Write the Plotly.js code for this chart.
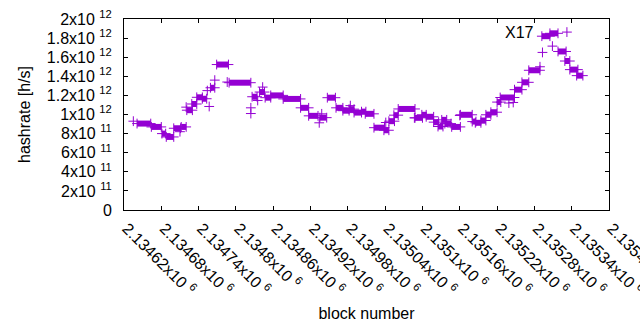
<!DOCTYPE html>
<html>
<head>
<meta charset="utf-8">
<script src="https://cdn.plot.ly/plotly-3.0.1.min.js"></script>
<style>html,body{margin:0;padding:0;background:#fff;}#chart{width:640px;height:330px;}</style>
</head>
<body>
<div id="chart"></div>
<script>
// Runs of consecutive blocks sharing the same hashrate (h/s)
var runStart = [2134641, 2134664, 2134681, 2134688, 2134700, 2134712, 2134721, 2134729, 2134737, 2134746,
  2134759, 2134769, 2134789, 2134826, 2134838, 2134847, 2134856, 2134876, 2134904, 2134917,
  2134935, 2134947, 2134961, 2134972, 2134982, 2134990, 2135002, 2135008, 2135022, 2135038,
  2135046, 2135054, 2135061, 2135088, 2135099, 2135106, 2135118, 2135125, 2135131, 2135136,
  2135147, 2135161, 2135180, 2135185, 2135194, 2135202, 2135210, 2135220, 2135225, 2135248,
  2135260, 2135271, 2135292, 2135305, 2135318, 2135329, 2135337, 2135348];
var runEnd = [2134663, 2134680, 2134687, 2134700, 2134711, 2134720, 2134730, 2134737, 2134746, 2134753,
  2134766, 2134788, 2134824, 2134834, 2134846, 2134856, 2134876, 2134904, 2134917, 2134932,
  2134946, 2134960, 2134972, 2134982, 2134990, 2135002, 2135009, 2135022, 2135039, 2135046,
  2135055, 2135061, 2135088, 2135100, 2135106, 2135118, 2135126, 2135133, 2135139, 2135146,
  2135161, 2135180, 2135186, 2135194, 2135202, 2135210, 2135220, 2135226, 2135248, 2135260,
  2135271, 2135289, 2135305, 2135318, 2135331, 2135337, 2135350, 2135358];
var runValue = [0.905e12, 0.87e12, 0.80e12, 0.765e12, 0.856e12, 0.87e12, 1.045e12, 1.11e12, 1.18e12, 1.165e12,
  1.28e12, 1.523e12, 1.333e12, 1.186e12, 1.235e12, 1.176e12, 1.20e12, 1.163e12, 1.07e12, 0.986e12,
  0.967e12, 1.176e12, 1.07e12, 1.04e12, 1.056e12, 1.02e12, 1.03e12, 1.007e12, 0.862e12, 0.835e12,
  0.93e12, 0.993e12, 1.058e12, 0.965e12, 0.997e12, 0.976e12, 0.92e12, 0.874e12, 0.944e12, 0.905e12,
  0.87e12, 0.997e12, 0.926e12, 0.913e12, 0.937e12, 0.997e12, 1.024e12, 1.13e12, 1.178e12, 1.26e12,
  1.337e12, 1.463e12, 1.82e12, 1.85e12, 1.66e12, 1.56e12, 1.47e12, 1.407e12];
// Isolated blocks
var isoBlock = [2134635, 2134710, 2134720, 2134754, 2134757, 2134766, 2134786, 2134824, 2134824, 2134835,
  2134843, 2134934, 2134938, 2134984, 2135041, 2135087, 2135160, 2135239, 2135246, 2135289,
  2135293, 2135309];
var isoValue = [0.93e12, 0.82e12, 1.077e12, 1.25e12, 1.084e12, 1.36e12, 1.34e12, 1.07e12, 1.01e12, 1.147e12,
  1.287e12, 0.913e12, 1.007e12, 1.093e12, 0.916e12, 0.965e12, 0.99e12, 1.12e12, 1.126e12, 1.50e12,
  1.65e12, 1.716e12];

var xTickVals = [2134620, 2134680, 2134740, 2134800, 2134860, 2134920, 2134980, 2135040, 2135100, 2135160, 2135220, 2135280, 2135340, 2135400];
var xTickText = ['2.13462x10 <sup>6</sup>', '2.13468x10 <sup>6</sup>', '2.13474x10 <sup>6</sup>', '2.1348x10 <sup>6</sup>',
  '2.13486x10 <sup>6</sup>', '2.13492x10 <sup>6</sup>', '2.13498x10 <sup>6</sup>', '2.13504x10 <sup>6</sup>',
  '2.1351x10 <sup>6</sup>', '2.13516x10 <sup>6</sup>', '2.13522x10 <sup>6</sup>', '2.13528x10 <sup>6</sup>',
  '2.13534x10 <sup>6</sup>', '2.1354x10 <sup>6</sup>'];
var yTickVals = [0, 2e11, 4e11, 6e11, 8e11, 1e12, 1.2e12, 1.4e12, 1.6e12, 1.8e12, 2e12];
var yTickText = ['0', '2x10 <sup>11</sup>', '4x10 <sup>11</sup>', '6x10 <sup>11</sup>', '8x10 <sup>11</sup>',
  '1x10 <sup>12</sup>', '1.2x10 <sup>12</sup>', '1.4x10 <sup>12</sup>', '1.6x10 <sup>12</sup>',
  '1.8x10 <sup>12</sup>', '2x10 <sup>12</sup>'];

var COLOR = '#9400d3';
var FONT = 'Liberation Sans, Arial, sans-serif';
var FS = 16;

var rx = [], ry = [];
for (var i = 0; i < runStart.length; i++) {
  rx.push(runStart[i], runEnd[i], null);
  ry.push(runValue[i], runValue[i], null);
}

var marker = {symbol: 'cross-thin', size: 7, color: COLOR, line: {width: 1, color: COLOR}};

var traces = [
  {x: rx, y: ry, type: 'scatter', mode: 'lines+markers', connectgaps: false,
   line: {color: COLOR, width: 6}, marker: marker, showlegend: false, hoverinfo: 'skip'},
  {x: isoBlock, y: isoValue, type: 'scatter', mode: 'markers', name: ' ',
   marker: marker, showlegend: true, hoverinfo: 'skip'}
];

var axisCommon = {
  showline: true, linecolor: '#000', linewidth: 1, mirror: 'ticks',
  ticks: 'inside', ticklen: 4, tickwidth: 1, tickcolor: '#000',
  showgrid: false, zeroline: false,
  tickfont: {family: FONT, size: FS, color: '#000'}
};

var layout = {
  width: 640, height: 330,
  margin: {l: 124, r: 31, t: 19, b: 120},
  paper_bgcolor: '#fff', plot_bgcolor: '#fff',
  font: {family: FONT, size: FS, color: '#000'},
  xaxis: Object.assign({}, axisCommon, {
    range: [2134620, 2135400], tickmode: 'array', tickvals: xTickVals, ticktext: xTickText,
    tickangle: 45, ticklabelstandoff: 2, ticklabelshift: 3, ticklabeloverflow: 'allow',
    title: {text: 'block number', font: {family: FONT, size: FS, color: '#000'}, standoff: 10}
  }),
  yaxis: Object.assign({}, axisCommon, {
    range: [0, 2e12], tickmode: 'array', tickvals: yTickVals, ticktext: yTickText,
    ticklabelstandoff: 8, ticklabeloverflow: 'allow',
    title: {text: 'hashrate [h/s]', font: {family: FONT, size: FS, color: '#000'}, standoff: 12}
  }),
  showlegend: true,
  legend: {x: 0.872, xanchor: 'left', y: 1.02, yanchor: 'top', bgcolor: 'rgba(0,0,0,0)',
    borderwidth: 0, font: {family: FONT, size: FS, color: '#000'}},
  annotations: [{xref: 'paper', yref: 'paper', x: 0.849, y: 0.93, xanchor: 'right', yanchor: 'middle',
    text: 'X17', showarrow: false, font: {family: FONT, size: FS, color: '#000'}}]
};

Plotly.newPlot('chart', traces, layout, {staticPlot: true, displayModeBar: false});
</script>
</body>
</html>
